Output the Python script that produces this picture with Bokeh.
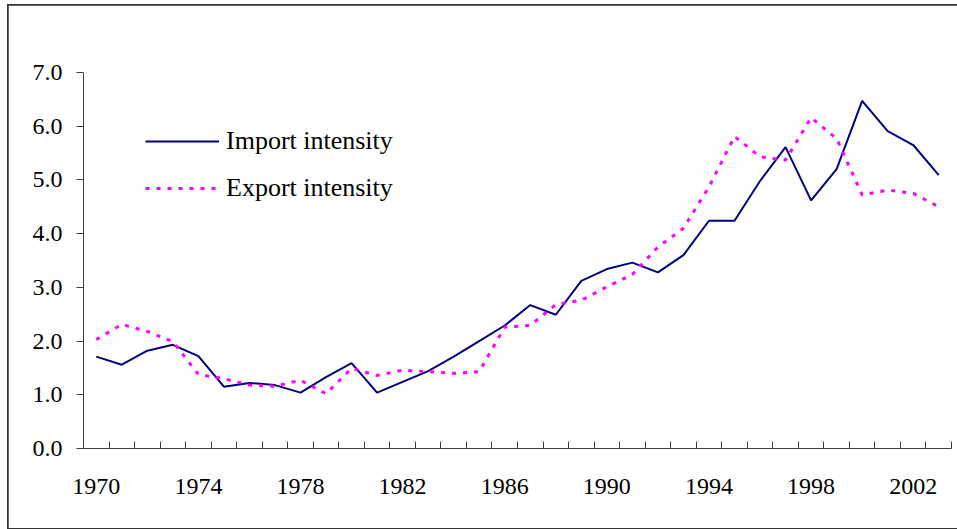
from bokeh.plotting import figure
from bokeh.models import Range1d, FixedTicker, PrintfTickFormatter, Legend, LegendItem
from bokeh.embed import file_html
from bokeh.resources import INLINE

years = list(range(1970, 2004))
import_intensity = [1.71, 1.56, 1.82, 1.93, 1.72, 1.15, 1.22, 1.18, 1.04, 1.33,
                    1.59, 1.04, 1.24, 1.44, 1.71, 2.00, 2.29, 2.67, 2.49, 3.12,
                    3.34, 3.46, 3.28, 3.60, 4.24, 4.24, 4.98, 5.61, 4.62, 5.20,
                    6.47, 5.91, 5.65, 5.09]
export_intensity = [2.03, 2.31, 2.18, 1.99, 1.38, 1.30, 1.18, 1.16, 1.27, 1.02,
                    1.49, 1.36, 1.46, 1.43, 1.40, 1.43, 2.26, 2.29, 2.68, 2.76,
                    3.01, 3.24, 3.75, 4.10, 4.87, 5.81, 5.43, 5.37, 6.16, 5.77,
                    4.72, 4.81, 4.75, 4.50]
x_tick_labels = [1970, 1974, 1978, 1982, 1986, 1990, 1994, 1998, 2002]
y_ticks = [0, 1, 2, 3, 4, 5, 6, 7]

FONT = "Liberation Serif"

p = figure(width=949, height=523, output_backend="svg", toolbar_location=None,
           x_range=Range1d(years[0] - 0.5, years[-1] + 0.5), y_range=Range1d(0, 7),
           min_border_left=75, min_border_top=67, min_border_bottom=80, min_border_right=6)
p.styles = {"margin-left": "8px", "margin-top": "5px",
            "outline": "2px solid #333333", "outline-offset": "-1px"}
p.outline_line_color = None
p.xgrid.visible = False
p.ygrid.visible = False

r_imp = p.line(years, import_intensity, line_color="#000080", line_width=2)
r_exp = p.line(years, export_intensity, line_color="#FF00FF", line_width=3, line_dash="4 7")

# x axis: ticks at category boundaries (minor), labels at category centres (major)
xa = p.xaxis[0]
xa.ticker = FixedTicker(ticks=x_tick_labels,
                        minor_ticks=[y - 0.5 for y in years] + [years[-1] + 0.5])
xa.major_tick_in = 0
xa.major_tick_out = 0
xa.minor_tick_in = 7
xa.minor_tick_out = 0
xa.axis_line_color = "#404040"
xa.minor_tick_line_color = "#404040"
xa.major_label_text_font = FONT
xa.major_label_text_font_size = "24px"
xa.major_label_text_color = "black"
xa.major_label_standoff = 30

ya = p.yaxis[0]
ya.ticker = FixedTicker(ticks=y_ticks)
ya.formatter = PrintfTickFormatter(format="%.1f")
ya.major_tick_in = 0
ya.major_tick_out = 7
ya.minor_tick_line_color = None
ya.axis_line_color = "#404040"
ya.major_tick_line_color = "#404040"
ya.major_label_text_font = FONT
ya.major_label_text_font_size = "24px"
ya.major_label_text_color = "black"
ya.major_label_standoff = 14

legend = Legend(items=[LegendItem(label="Import intensity", renderers=[r_imp]),
                       LegendItem(label="Export intensity", renderers=[r_exp])],
                location=(62, 245), glyph_width=74, glyph_height=30, label_height=30,
                spacing=17, label_standoff=7, padding=0, margin=0,
                border_line_alpha=0, background_fill_alpha=0,
                label_text_font=FONT, label_text_font_size="26px", label_text_color="black")
p.add_layout(legend, "center")

open("out.html", "w").write(file_html(p, INLINE))
